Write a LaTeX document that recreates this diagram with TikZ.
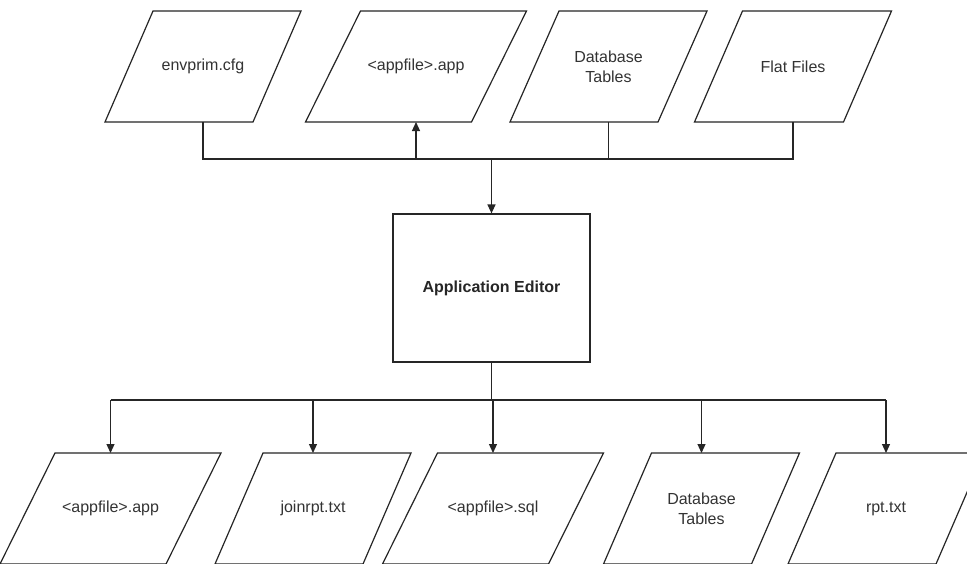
\documentclass[tikz,border=0pt]{standalone}
\usepackage{fontspec}
\setmainfont{Liberation Sans}
\usetikzlibrary{calc,arrows.meta}
\tikzset{
  edge/.style={line width=1.2pt, draw=black!85},
  arrowline/.style={edge, -{Triangle[length=9pt,width=8pt]}},
  lbl/.style={inner sep=0pt, align=center, text=black!80, font=\fontsize{16}{20}\selectfont},
  editor/.style={draw=black!85, line width=1.2pt, minimum width=197pt, minimum height=148pt,
    inner sep=0pt, text=black!85, font=\fontsize{16}{20}\selectfont\bfseries},
}
% name, cx, cy, top width, slant, text
\newcommand{\fileshape}[6]{%
  \node[lbl] (#1) at (#2,#3) {#6};
  \coordinate (#1-top) at ($(#1)+(0,-55.5)$);
  \coordinate (#1-bot) at ($(#1)+(0,55.5)$);
  \draw[edge, line join=miter] ($(#1)+({-#4/2+#5/2},-55.5)$) -- ++(#4,0) -- ++(-#5,111) -- ++(-#4,0) -- cycle;
}
\begin{document}
\begin{tikzpicture}[x=1pt,y=-1pt]
\clip (0,0) rectangle (967,563);
\fill[white] (0,0) rectangle (967,563);
% inputs
\fileshape{t1}{203}{66.5}{148}{48}{envprim.cfg}
\fileshape{t2}{416}{66.5}{166}{55}{<appfile>.app}
\fileshape{t3}{608.5}{66.5}{148}{49}{Database\\Tables}
\fileshape{t4}{793}{66.5}{149}{48}{Flat Files}
% editor
\node[editor] (ed) at (491.5,288) {Application Editor};
% outputs
\fileshape{b1}{110.5}{508.5}{166}{55}{<appfile>.app}
\fileshape{b2}{313}{508.5}{148}{48}{joinrpt.txt}
\fileshape{b3}{493}{508.5}{166}{55}{<appfile>.sql}
\fileshape{b4}{701.5}{508.5}{148}{48}{Database\\Tables}
\fileshape{b5}{886}{508.5}{148}{48}{rpt.txt}
% top bus
\coordinate (tbus) at (0,159);
\draw[edge] (t1-bot) -- (t1-bot |- tbus) -- (t4-bot |- tbus) -- (t4-bot);
\draw[edge] (t3-bot) -- (t3-bot |- tbus);
\draw[arrowline] (t2-bot |- tbus) -- (t2-bot);
\draw[arrowline] (ed.north |- tbus) -- (ed.north);
% bottom bus
\coordinate (bbus) at (0,400);
\draw[edge] (ed.south) -- (ed.south |- bbus);
\draw[edge] (b1-top |- bbus) -- (b5-top |- bbus);
\foreach \n in {b1,b2,b3,b4,b5}{
  \draw[arrowline] (\n-top |- bbus) -- (\n-top);
}
\end{tikzpicture}
\end{document}
